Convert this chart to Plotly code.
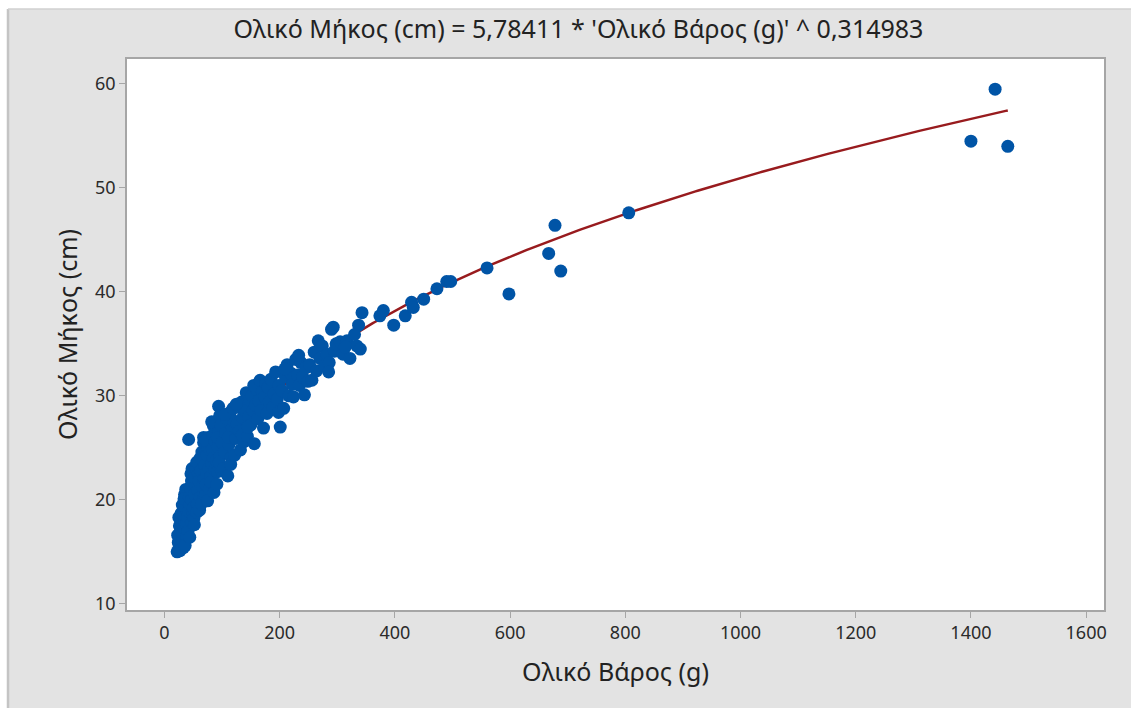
import numpy as np
import plotly.graph_objects as go

# Total weight (g) and total length (cm) of each specimen
weight_g = [
    22, 25, 24, 27, 23, 28, 26, 30, 25, 29, 31, 33, 27,
    32, 34, 35, 33, 36, 38, 35, 37, 39, 38, 40, 31, 34, 36,
    41, 42, 44, 43, 45, 47, 46, 48, 49, 42, 44, 47, 50, 48,
    51, 52, 54, 53, 55, 56, 57, 58, 59, 52, 56, 60,
    61, 62, 63, 64, 65, 66, 67, 68, 69, 62, 64, 70, 68,
    71, 72, 73, 74, 75, 76, 77, 78, 79, 72, 75, 80,
    81, 82, 83, 84, 85, 86, 87, 88, 89, 82, 85, 90,
    91, 92, 93, 94, 95, 96, 97, 98, 99, 92, 95, 100,
    102, 104, 106, 108, 110, 112, 114, 116, 118, 120, 105, 115, 111, 119,
    122, 124, 126, 128, 130, 132, 134, 136, 138, 140, 125, 135,
    142, 144, 146, 148, 150, 152, 154, 156, 158, 160, 145, 155,
    162, 164, 166, 168, 170, 172, 174, 176, 178, 180,
    182, 185, 188, 190, 193, 196, 199, 201, 198,
    204, 207, 210, 213, 216, 219, 222, 224, 209,
    228, 231, 234, 237, 240, 243, 246, 249, 233,
    252, 256, 260, 264, 267, 270, 274, 278, 282, 286, 290, 293, 295, 298, 285,
    305, 310, 317, 322, 334, 337, 340, 343, 330, 314,
    374, 380, 398, 418, 429, 432, 450, 473, 490, 497,
    560, 598, 667, 678, 688, 806, 1400, 1442, 1464,
]
length_cm = [
    15.0, 15.3, 15.9, 16.2, 16.6, 17.0, 17.5, 17.8, 18.3, 18.7, 16.0, 15.4, 15.1,
    16.8, 17.3, 18.0, 18.6, 19.2, 19.9, 20.5, 21.0, 16.5, 17.6, 18.4, 19.5, 20.1, 15.6,
    17.0, 18.9, 19.5, 20.3, 21.2, 21.8, 22.5, 17.8, 18.6, 25.8, 16.4, 20.0, 19.2, 23.0,
    18.2, 20.6, 21.4, 22.1, 23.0, 23.6, 19.6, 20.9, 22.4, 17.6, 18.8, 21.8,
    19.0, 20.2, 22.8, 23.9, 24.6, 21.3, 20.0, 25.5, 22.0, 24.0, 19.6, 23.3, 26.0,
    20.4, 21.5, 22.6, 24.3, 25.2, 26.0, 23.0, 21.0, 24.8, 25.7, 19.9, 22.2,
    21.7, 23.5, 24.9, 26.2, 27.1, 20.7, 22.9, 25.6, 27.5, 27.5, 24.0, 23.8,
    21.5, 22.7, 25.1, 29.0, 26.6, 28.1, 24.2, 27.2, 22.8, 26.0, 23.6, 25.5,
    23.0, 24.6, 26.4, 27.8, 22.3, 25.3, 28.4, 24.1, 26.9, 27.6, 28.2, 23.4, 26.0, 28.8,
    24.3, 25.9, 27.3, 28.9, 26.6, 24.8, 29.4, 27.9, 25.6, 28.6, 29.2, 26.2,
    30.3, 26.1, 28.0, 29.6, 27.2, 30.0, 28.6, 25.4, 29.1, 30.6, 27.0, 31.0,
    27.8, 29.5, 31.5, 28.6, 30.4, 26.9, 29.9, 31.2, 28.3, 30.8,
    29.4, 31.6, 28.9, 30.2, 32.3, 29.7, 31.0, 27.0, 28.4,
    30.5, 28.8, 31.8, 33.0, 30.0, 32.2, 31.1, 29.9, 32.6,
    33.5, 32.0, 31.0, 33.2, 31.8, 30.1, 32.7, 31.4, 33.9,
    33.0, 31.5, 34.2, 32.4, 35.3, 33.6, 34.8, 32.9, 34.0, 33.2, 36.4, 36.6, 34.3, 35.0, 32.3,
    35.2, 34.0, 35.3, 33.6, 34.8, 36.8, 34.5, 38.0, 35.9, 34.7,
    37.7, 38.2, 36.8, 37.7, 39.0, 38.5, 39.3, 40.3, 41.0, 41.0,
    42.3, 39.8, 43.7, 46.4, 42.0, 47.6, 54.5, 59.5, 54.0,
]

# Fitted power model: length = a * weight ^ b
coef_a = 5.78411
coef_b = 0.314983

x_ticks = [0, 200, 400, 600, 800, 1000, 1200, 1400, 1600]
y_ticks = [10, 20, 30, 40, 50, 60]

fit_x = np.linspace(min(weight_g), max(weight_g), 400)
fit_y = coef_a * fit_x ** coef_b

font_family = "Noto Sans, Open Sans, sans-serif"
panel_gray = "#e3e3e3"
axis_gray = "#a6a6a6"
text_color = "#222222"

fig = go.Figure()
# fitted curve first so the observations sit on top of it
fig.add_trace(go.Scatter(
    x=fit_x, y=fit_y, mode="lines",
    line=dict(color="#981b1e", width=2.5),
    showlegend=False, hoverinfo="skip",
))
fig.add_trace(go.Scatter(
    x=weight_g, y=length_cm, mode="markers",
    marker=dict(color="#0054a6", size=13, line=dict(width=0)),
    showlegend=False, hoverinfo="x+y",
))

axis_common = dict(
    showgrid=False, zeroline=False, showline=True, linecolor=axis_gray,
    linewidth=1.5, mirror=True, ticks="outside", ticklen=6, tickwidth=1.2,
    tickcolor=axis_gray, tickfont=dict(family=font_family, size=18, color="#2b2b2b"),
)

fig.update_layout(
    width=1131, height=708,
    margin=dict(l=127, r=27, t=59, b=98),
    paper_bgcolor=panel_gray, plot_bgcolor="white",
    font=dict(family=font_family, color=text_color),
    title=dict(
        text="Ολικό Μήκος (cm) = 5,78411 * 'Ολικό Βάρος (g)' ^ 0,314983",
        x=0.5115, xanchor="center", y=0.958, yanchor="middle",
        font=dict(family=font_family, size=25, color=text_color),
    ),
    xaxis=dict(
        range=[-65, 1631], tickvals=x_ticks, ticktext=[str(v) for v in x_ticks],
        title=dict(text="Ολικό Βάρος (g)", standoff=20,
                   font=dict(family=font_family, size=25, color=text_color)),
        **axis_common,
    ),
    yaxis=dict(
        range=[9.4, 62.4], tickvals=y_ticks, ticktext=[str(v) for v in y_ticks],
        title=dict(text="Ολικό Μήκος (cm)", standoff=10,
                   font=dict(family=font_family, size=25, color=text_color)),
        **axis_common,
    ),
    shapes=[
        # white strip along the left and top edges, with the panel's darker rim
        dict(type="rect", xref="paper", yref="paper", x0=-0.2, x1=-127 / 977 + 8 / 977,
             y0=-0.3, y1=1.2, fillcolor="white", line=dict(width=0), layer="below"),
        dict(type="rect", xref="paper", yref="paper", x0=-0.2, x1=1.1,
             y0=1 + 50 / 550.5, y1=1.2, fillcolor="white", line=dict(width=0), layer="below"),
        dict(type="line", xref="paper", yref="paper",
             x0=-119 / 977, x1=-119 / 977, y0=-0.3, y1=1 + 50 / 550.5,
             line=dict(color="#c4c4c4", width=2.5), layer="below"),
        dict(type="line", xref="paper", yref="paper",
             x0=-119 / 977, x1=1.1, y0=1 + 50 / 550.5, y1=1 + 50 / 550.5,
             line=dict(color="#d0d0d0", width=1.5), layer="below"),
    ],
)

fig.write_html("out.html")
